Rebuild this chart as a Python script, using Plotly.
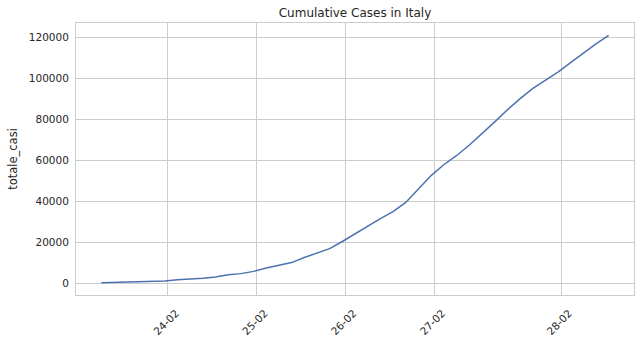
import plotly.graph_objects as go
import pandas as pd

# data
dates = pd.date_range("2020-02-24 18:00", periods=41, freq="D")
totale_casi = [200, 300, 400, 600, 850, 1050, 1550, 1900, 2400, 3000,
               4000, 4600, 5700, 7300, 8800, 10000, 12500, 14800, 16800, 20300,
               24000, 28000, 31500, 34900, 39400, 46000, 52500, 57800, 62200, 67300,
               72800, 78600, 84500, 90000, 95000, 99200, 103000, 107700, 112400, 116800,
               121000]
tick_dates = ["2020-03-01", "2020-03-08", "2020-03-15", "2020-03-22", "2020-04-01"]
tick_labels = ["24-02", "25-02", "26-02", "27-02", "28-02"]

ymin, ymax = min(totale_casi), max(totale_casi)
ypad = 0.05 * (ymax - ymin)
xpad = 0.05 * (dates[-1] - dates[0])

fig = go.Figure(go.Scatter(x=dates, y=totale_casi, mode="lines",
                           line=dict(color="#4c72b0", width=1.5)))

font_color = "#262626"
fig.update_layout(
    width=640, height=341,
    margin=dict(l=76, r=6, t=23, b=46),
    paper_bgcolor="white", plot_bgcolor="white",
    font=dict(family="DejaVu Sans", size=10.5, color=font_color),
    title=dict(text="Cumulative Cases in Italy", x=0.5, xref="paper", xanchor="center",
               y=1 - 13 / 341, yanchor="middle", font=dict(size=12, color=font_color)),
    showlegend=False,
)
fig.update_xaxes(
    range=[dates[0] - xpad, dates[-1] + xpad],
    tickmode="array", tickvals=pd.to_datetime(tick_dates), ticktext=tick_labels,
    tickangle=-45, ticks="", ticklabelshift=8, ticklabelstandoff=7, automargin=False,
    showgrid=True, gridcolor="#cccccc", gridwidth=1,
    showline=True, linecolor="#cccccc", linewidth=1, mirror=True, zeroline=False,
)
fig.update_yaxes(
    range=[ymin - ypad, ymax + ypad],
    tickvals=[0, 20000, 40000, 60000, 80000, 100000, 120000],
    tickformat="d", ticks="", ticklabelstandoff=4, automargin=False,
    showgrid=True, gridcolor="#cccccc", gridwidth=1,
    showline=True, linecolor="#cccccc", linewidth=1, mirror=True, zeroline=False,
    title=dict(text="totale_casi", font=dict(size=11.5, color=font_color), standoff=8),
)
fig.write_html("out.html")
